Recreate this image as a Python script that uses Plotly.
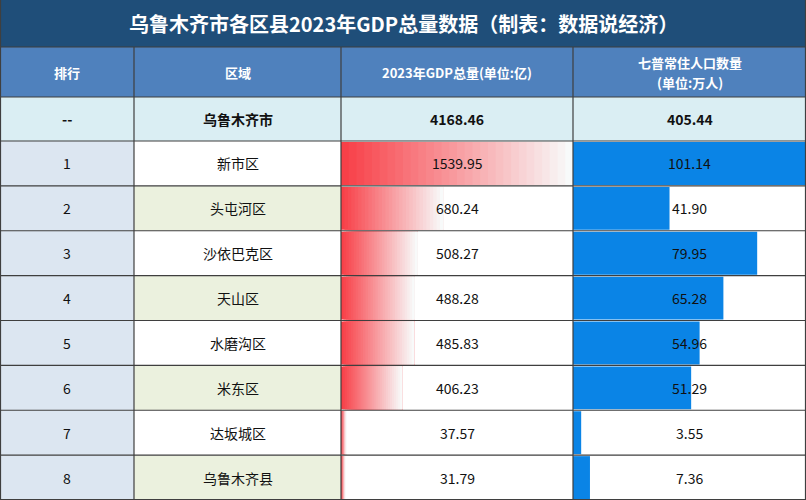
import plotly.graph_objects as go

# ==============================
# Data
# ==============================
TITLE = "乌鲁木齐市各区县2023年GDP总量数据（制表：数据说经济）"
HEADERS = ["排行", "区域", "2023年GDP总量(单位:亿)", ["七普常住人口数量", "(单位:万人)"]]
CITY = ["--", "乌鲁木齐市", "4168.46", "405.44"]
RANKS = ["1", "2", "3", "4", "5", "6", "7", "8"]
REGIONS = ["新市区", "头屯河区", "沙依巴克区", "天山区", "水磨沟区", "米东区", "达坂城区", "乌鲁木齐县"]
GDP = [1539.95, 680.24, 508.27, 488.28, 485.83, 406.23, 37.57, 31.79]
POP = [101.14, 41.90, 79.95, 65.28, 54.96, 51.29, 3.55, 7.36]

# ==============================
# Layout (pixels)
# ==============================
W, H = 806, 500
COLS = [0, 134, 341, 573, 806]
TITLE_H, HEAD_B, CITY_B = 47, 97, 141
ROW_H = (H - CITY_B) / len(RANKS)
FONT = "Noto Sans CJK SC"
BORDER = "#3f3f3f"

shapes = []
def rect(x0, y0, x1, y1, color):
    shapes.append(dict(type="rect", xref="x", yref="y", x0=x0, x1=x1, y0=y0, y1=y1,
                       fillcolor=color, line=dict(width=0), layer="below"))

rect(0, 0, W, TITLE_H, "#1f4e79")
rect(0, TITLE_H, W, HEAD_B, "#4f81bd")
rect(0, HEAD_B, W, CITY_B, "#daeef3")
for i in range(len(RANKS)):
    y0 = CITY_B + i * ROW_H
    rect(0, y0, COLS[1], y0 + ROW_H, "#dce6f1")
    rect(COLS[1], y0, COLS[2], y0 + ROW_H, "#ffffff" if i % 2 == 0 else "#ebf1de")
    rect(COLS[2], y0, W, y0 + ROW_H, "#ffffff")

# grid lines
lines = []
ys = [TITLE_H, HEAD_B, CITY_B] + [CITY_B + i * ROW_H for i in range(1, len(RANKS))] + [H - 0.5]
for y in ys:
    lines.append(dict(type="line", xref="x", yref="y", x0=0, x1=W, y0=y, y1=y,
                      line=dict(color=BORDER, width=1.2)))
for x in COLS[1:-1]:
    lines.append(dict(type="line", xref="x", yref="y", x0=x, x1=x, y0=TITLE_H, y1=H,
                      line=dict(color=BORDER, width=1.2)))
for x in [0.5, W - 0.5]:
    lines.append(dict(type="line", xref="x", yref="y", x0=x, x1=x, y0=0, y1=H,
                      line=dict(color=BORDER, width=1.2)))

fig = go.Figure()
centers = [CITY_B + (i + 0.5) * ROW_H for i in range(len(RANKS))]

# gradient GDP bars: overlapping segments fading red -> white
N = 30
for k in range(N):
    t = k / (N - 1)
    r, g, b = 248, int(64 + (250 - 64) * t), int(72 + (250 - 72) * t)
    fig.add_trace(go.Bar(
        x=[v * (N - k) / N for v in GDP], base=[v * k / N for v in GDP], y=centers,
        orientation="h", width=ROW_H - 2, marker=dict(color=f"rgb({r},{g},{b})", line=dict(width=0)),
        xaxis="x2", yaxis="y", showlegend=False, hoverinfo="skip"))

fig.add_trace(go.Bar(
    x=POP, y=centers, orientation="h", width=ROW_H - 2,
    marker=dict(color="#0a84e6", line=dict(width=0)),
    xaxis="x3", yaxis="y", showlegend=False, hoverinfo="skip"))

ann = []
def txt(x, y, s, size=14, color="#111", bold=False):
    ann.append(dict(x=x, y=y, xref="x", yref="y", text=f"<b>{s}</b>" if bold else s,
                    showarrow=False, font=dict(family=FONT, size=size, color=color)))

txt(W / 2, TITLE_H / 2, TITLE, size=20, color="white", bold=True)
hy = (TITLE_H + HEAD_B) / 2
for j, h in enumerate(HEADERS):
    cx = (COLS[j] + COLS[j + 1]) / 2
    if isinstance(h, list):
        txt(cx, hy - 10, h[0], size=13, color="white", bold=True)
        txt(cx, hy + 10, h[1], size=13, color="white", bold=True)
    else:
        txt(cx, hy, h, size=13, color="white", bold=True)
for j, s in enumerate(CITY):
    txt((COLS[j] + COLS[j + 1]) / 2, (HEAD_B + CITY_B) / 2, s, bold=True)
for i in range(len(RANKS)):
    row = [RANKS[i], REGIONS[i], f"{GDP[i]:.2f}", f"{POP[i]:.2f}"]
    for j, s in enumerate(row):
        txt((COLS[j] + COLS[j + 1]) / 2, centers[i], s)

fig.update_layout(
    width=W, height=H, margin=dict(l=0, r=0, t=0, b=0),
    paper_bgcolor="white", plot_bgcolor="rgba(0,0,0,0)", barmode="overlay",
    xaxis=dict(range=[0, W], visible=False, fixedrange=True),
    yaxis=dict(range=[H, 0], visible=False, fixedrange=True),
    xaxis2=dict(domain=[COLS[2] / W, COLS[3] / W], range=[0, max(GDP)], visible=False, anchor="y"),
    xaxis3=dict(domain=[COLS[3] / W, COLS[4] / W], range=[0, max(POP)], visible=False, anchor="y"),
    shapes=shapes + lines, annotations=ann,
)

fig.write_html("out.html", config={"displayModeBar": False},
               post_script="document.body.style.margin='0';")
